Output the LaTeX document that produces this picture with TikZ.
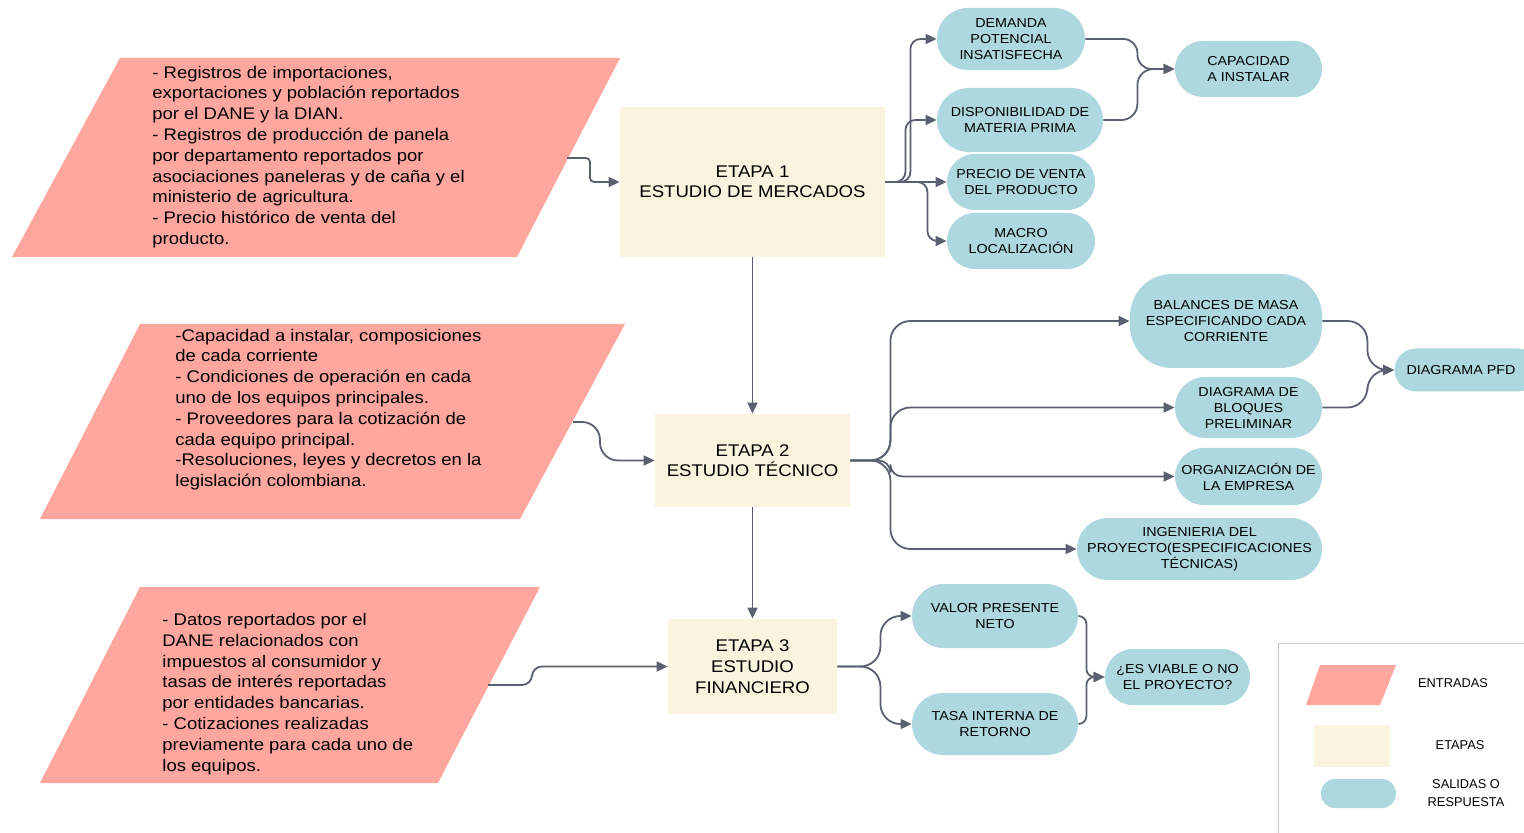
\documentclass[tikz,border=0pt]{standalone}
\usepackage{fontspec}
\setmainfont{Liberation Sans}
\newfontfamily\widesans[FakeStretch=1.1]{Liberation Sans}
\usetikzlibrary{arrows.meta,shapes.misc,calc}
\definecolor{inpink}{HTML}{FFA69E}
\definecolor{etcream}{HTML}{FAF3DE}
\definecolor{outblue}{HTML}{AED8DF}
\definecolor{arrgray}{HTML}{5A6070}
\definecolor{legline}{HTML}{CCCCCC}
\begin{document}
\begin{tikzpicture}[x=0.5pt,y=-0.5pt,
 arr/.style={draw=arrgray,line width=0.9pt,-{Triangle[length=5.5pt,width=5pt]},rounded corners=5pt},
 etapa/.style={fill=etcream,inner sep=0,align=center,font=\widesans\fontsize{8.45}{10}\selectfont},
 pill/.style={rounded rectangle,fill=outblue,inner sep=0,align=center,font=\widesans\fontsize{6.5}{8}\selectfont},
 intext/.style={anchor=west,inner sep=0,align=left,font=\widesans\fontsize{8.4}{10.4}\selectfont},
 legtext/.style={inner sep=0,align=center,font=\fontsize{6.4}{9}\selectfont}
]
\useasboundingbox (0,0) rectangle (1524,833);

% input parallelograms
\fill[inpink] (120,58) -- (620,58) -- (517,257) -- (12,257) -- cycle;
\fill[inpink] (140,324) -- (625,324) -- (520,519) -- (40,519) -- cycle;
\fill[inpink] (140,587) -- (540,587) -- (438,783) -- (40,783) -- cycle;

\node[intext] (in1) at (152,157) {- Registros de importaciones,\\exportaciones y población reportados\\por el DANE y la DIAN.\\- Registros de producción de panela\\por departamento reportados por\\asociaciones paneleras y de caña y el\\ministerio de agricultura.\\- Precio histórico de venta del\\producto.};
\node[intext] (in2) at (175,409.5) {-Capacidad a instalar, composiciones\\de cada corriente\\- Condiciones de operación en cada\\uno de los equipos principales.\\- Proveedores para la cotización de\\cada equipo principal.\\-Resoluciones, leyes y decretos en la\\legislación colombiana.};
\node[intext] (in3) at (162,694) {- Datos reportados por el\\DANE relacionados con\\impuestos al consumidor y\\tasas de interés reportadas\\por entidades bancarias.\\- Cotizaciones realizadas\\previamente para cada uno de\\los equipos.};

\coordinate (p1o) at (567,158);
\coordinate (p2o) at (573,422);
\coordinate (p3o) at (488,685);

% etapas
\node[etapa,minimum width=132.5pt,minimum height=75pt] (e1) at (752.5,182) {ETAPA 1\\ESTUDIO DE MERCADOS};
\node[etapa,minimum width=97.5pt,minimum height=46.5pt] (e2) at (752.5,460.5) {ETAPA 2\\ESTUDIO TÉCNICO};
\node[etapa,minimum width=84.5pt,minimum height=47.5pt,font=\widesans\fontsize{8.45}{10.5}\selectfont] (e3) at (752.5,666.5) {ETAPA 3\\ESTUDIO\\FINANCIERO};

% outputs
\node[pill,minimum width=74pt,minimum height=31pt] (d1) at (1011,39) {DEMANDA\\POTENCIAL\\INSATISFECHA};
\node[pill,minimum width=73.5pt,minimum height=28pt] (cap) at (1248.5,69) {CAPACIDAD\\A INSTALAR};
\node[pill,minimum width=83pt,minimum height=32pt] (d2) at (1020,120) {DISPONIBILIDAD DE\\MATERIA PRIMA};
\node[pill,minimum width=74pt,minimum height=28pt] (d3) at (1021,182) {PRECIO DE VENTA\\DEL PRODUCTO};
\node[pill,minimum width=74pt,minimum height=28pt] (d4) at (1021,241) {MACRO\\LOCALIZACIÓN};

\node[rectangle,rounded corners=21pt,fill=outblue,inner sep=0,align=center,font=\widesans\fontsize{6.5}{8}\selectfont,minimum width=96pt,minimum height=47pt] (b1) at (1226,321) {BALANCES DE MASA\\ESPECIFICANDO CADA\\CORRIENTE};
\node[pill,minimum width=72.5pt,minimum height=21.5pt] (pfd) at (1467,370) {\hspace*{-6pt}DIAGRAMA PFD};
\node[pill,minimum width=73.5pt,minimum height=30.5pt] (b2) at (1248.5,407.5) {DIAGRAMA DE\\BLOQUES\\PRELIMINAR};
\node[pill,minimum width=73.5pt,minimum height=28.5pt] (b3) at (1248.5,476.5) {ORGANIZACIÓN DE\\LA EMPRESA};
\node[pill,minimum width=122.5pt,minimum height=31pt] (b4) at (1199.5,549) {INGENIERIA DEL\\PROYECTO(ESPECIFICACIONES\\TÉCNICAS)};

\node[pill,minimum width=83pt,minimum height=32pt] (v1) at (995,616) {VALOR PRESENTE\\NETO};
\node[pill,minimum width=83pt,minimum height=31pt] (v2) at (995,724) {TASA INTERNA DE\\RETORNO};
\node[pill,minimum width=72.5pt,minimum height=28pt] (q) at (1177.5,677) {¿ES VIABLE O NO\\EL PROYECTO?};

% connectors
\draw[arr,rounded corners=2pt] (p1o) -- ++(23,0) |- (e1.west);
\draw[arr,rounded corners=9pt] (p2o) -- ++(27,0) |- (e2.west);
\draw[arr,rounded corners=5pt] (p3o) -- ++(44,0) |- (e3.west);

\draw[arr] (e1.south) -- (e2.north);
\draw[arr] (e2.south) -- (e3.north);

\draw[arr] (e1.east) -- ++(25,0) |- (d1.west);
\draw[arr] (e1.east) -- ++(20,0) |- (d2.west);
\draw[arr] (e1.east) -- (d3.west);
\draw[arr] (e1.east) -- ++(42,0) |- (d4.west);
\draw[arr,rounded corners=7pt] (d1.east) -- ++(52,0) |- (cap.west);
\draw[arr,rounded corners=8pt] (d2.east) -- ++(34,0) |- (cap.west);

\draw[arr,rounded corners=10pt] (e2.east) -- ++(40,0) |- (b1.west);
\draw[arr,rounded corners=10pt] (e2.east) -- ++(40,0) |- (b2.west);
\draw[arr,rounded corners=6pt] (e2.east) -- ++(40,0) |- (b3.west);
\draw[arr,rounded corners=10pt] (e2.east) -- ++(40,0) |- (b4.west);
\draw[arr,rounded corners=10pt] (b1.east) -- ++(45,0) |- (pfd.west);
\draw[arr,rounded corners=10pt] (b2.east) -- ++(45,0) |- (pfd.west);

\draw[arr,rounded corners=10pt] (e3.east) -- ++(43,0) |- (v1.west);
\draw[arr,rounded corners=10pt] (e3.east) -- ++(43,0) |- (v2.west);
\draw[arr,rounded corners=4pt] (v1.east) -- ++(8,0) |- (q.west);
\draw[arr,rounded corners=4pt] (v2.east) -- ++(8,0) |- (q.west);

% legend
\draw[legline,line width=0.5pt] (1278,840) -- (1278,643) -- (1530,643);
\fill[inpink] (1320,665) -- (1396,665) -- (1380,705) -- (1306,705) -- cycle;
\fill[etcream] (1314,725) rectangle (1390,767);
\fill[outblue,rounded corners=7pt] (1321,779) rectangle (1396,808);
\node[legtext] (l1) at (1453,683) {ENTRADAS};
\node[legtext] (l2) at (1460,745) {ETAPAS};
\node[legtext] (l3) at (1466,793) {SALIDAS O\\RESPUESTA};
\end{tikzpicture}
\end{document}
